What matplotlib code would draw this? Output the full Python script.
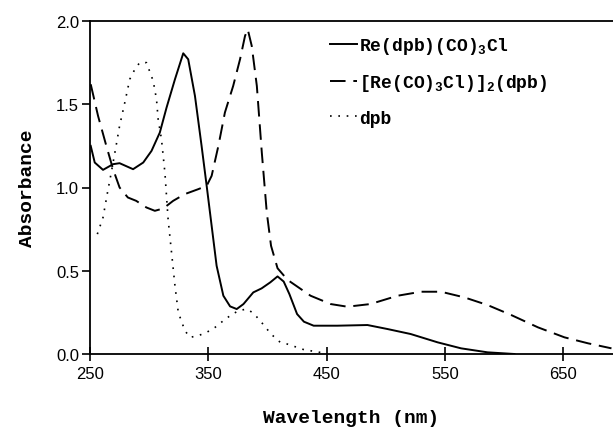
import matplotlib
matplotlib.use("Agg")
import matplotlib.pyplot as plt

# Re(dpb)(CO)3Cl (solid)
wl_mono = [250.6, 254, 261, 269.5, 275, 286.4, 295, 302, 309, 314.7, 321.8, 328.8, 333, 338.7,
           344.3, 348.6, 352.8, 357, 362.7, 368.4, 374, 379.7, 388, 395, 402.3, 408.5, 413.7,
           418.5, 425, 430.8, 439, 459, 484.5, 501.4, 521, 543.8, 563.6, 586, 608.7]
abs_mono = [1.25, 1.15, 1.106, 1.14, 1.146, 1.11, 1.15, 1.22, 1.33, 1.48, 1.65, 1.806, 1.77, 1.55,
            1.25, 1.01, 0.77, 0.53, 0.35, 0.286, 0.27, 0.30, 0.37, 0.394, 0.43, 0.466, 0.435,
            0.36, 0.24, 0.194, 0.17, 0.17, 0.174, 0.15, 0.12, 0.07, 0.034, 0.01, 0.0]

# [Re(CO)3Cl]2(dpb) (dashed)
wl_di = [250.6, 256.8, 263.8, 269.5, 275, 282, 289, 297.7, 304.8, 311.9, 320.3, 330, 341.5, 348.6,
         352.8, 358.5, 364, 371, 376.8, 381, 383.3, 386.7, 391, 395.2, 399.4, 403, 408.5, 417,
         436.4, 453.4, 467.5, 487, 510, 529.7, 546.6, 566.4, 586, 606, 628.6, 651, 671, 690.7]
abs_di = [1.62, 1.43, 1.25, 1.11, 1.0, 0.94, 0.92, 0.88, 0.86, 0.874, 0.92, 0.96, 0.99, 1.01,
          1.07, 1.25, 1.45, 1.61, 1.77, 1.91, 1.95, 1.85, 1.61, 1.21, 0.85, 0.65, 0.515, 0.445,
          0.35, 0.30, 0.284, 0.30, 0.35, 0.374, 0.374, 0.34, 0.294, 0.234, 0.16, 0.10, 0.064, 0.034]

# dpb (dotted)
wl_dpb = [256.2, 261, 265.3, 268, 272.3, 275, 279.4, 283.6, 287.9, 292, 297.7, 303.4, 306.2, 307.6,
          310.4, 313.3, 316, 318.9, 321.8, 324.6, 330.2, 334.5, 341.5, 348.6, 355.7, 362.7, 368.4,
          375.4, 382.5, 388, 393.8, 403, 410.8, 416.6, 430.8, 447.7]
abs_dpb = [0.72, 0.82, 0.99, 1.09, 1.26, 1.37, 1.51, 1.65, 1.71, 1.75, 1.75, 1.64, 1.53, 1.41,
           1.29, 1.09, 0.81, 0.61, 0.41, 0.25, 0.14, 0.10, 0.11, 0.13, 0.16, 0.20, 0.23,
           0.26, 0.27, 0.246, 0.20, 0.12, 0.07, 0.06, 0.026, 0.006]

labels = [r"Re(dpb)(CO)$_3$Cl", r"[Re(CO)$_3$Cl)]$_2$(dpb)", "dpb"]
xticks = [250, 350, 450, 550, 650]
yticks = [0.0, 0.5, 1.0, 1.5, 2.0]

plt.rcParams['mathtext.fontset'] = 'custom'
plt.rcParams['mathtext.rm'] = 'Liberation Mono:bold'
plt.rcParams['mathtext.default'] = 'rm'

fig = plt.figure(figsize=(6.13, 4.35), dpi=100)
ax = fig.add_axes([90/613, 1-355/435, 1-90/613, 333/435])

ax.plot(wl_mono, abs_mono, color='black', lw=1.4, ls='-', label=labels[0])
ax.plot(wl_di, abs_di, color='black', lw=1.4, ls=(0, (8, 4)), label=labels[1])
ax.plot(wl_dpb, abs_dpb, color='black', lw=1.2, ls=(0, (1, 4)), label=labels[2])

ax.set_xlim(250, 692)
ax.set_ylim(0, 2.0)
ax.set_xticks(xticks)
ax.set_xticklabels([str(t) for t in xticks])
ax.set_yticks(yticks)
ax.set_yticklabels([f"{t:.1f}" for t in yticks])
ax.spines['right'].set_visible(False)
for s in ['left', 'bottom', 'top']:
    ax.spines[s].set_linewidth(1.3)
ax.tick_params(axis='x', direction='inout', length=10, width=1.2, pad=4)
ax.tick_params(axis='y', direction='out', length=6, width=1.2, pad=2)
for lab in ax.get_xticklabels() + ax.get_yticklabels():
    lab.set_fontfamily('Liberation Sans')
    lab.set_fontsize(12)

ax.set_xlabel("Wavelength (nm)", fontfamily='Liberation Mono', fontweight='bold', fontsize=14, labelpad=20)
ax.set_ylabel("Absorbance", fontfamily='Liberation Mono', fontweight='bold', fontsize=14, labelpad=14)

leg = ax.legend(loc='upper left', bbox_to_anchor=((330-90)/523, 1-(36-22)/333), frameon=False,
                prop={'family': 'Liberation Mono', 'weight': 'bold', 'size': 13},
                handlelength=1.5, handletextpad=0.1, labelspacing=0.9, borderpad=0, borderaxespad=0)

fig.savefig("out.png", dpi=100)
